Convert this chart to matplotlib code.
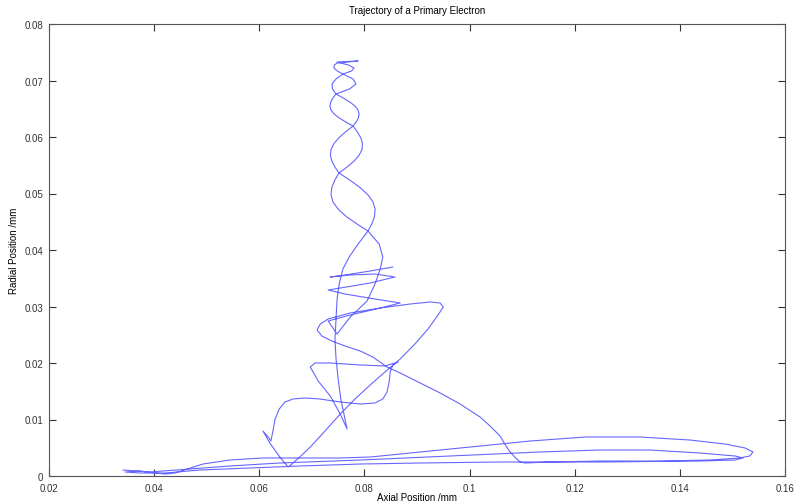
import numpy as np
import matplotlib
matplotlib.use("Agg")
import matplotlib.pyplot as plt

plt.rcParams['font.family'] = ['Liberation Sans', 'DejaVu Sans']

# trajectory, in path order (axial mm, radial mm)
bottom_x = [0.0341, 0.0392, 0.0468, 0.0544, 0.0639, 0.0792, 0.0963, 0.1134, 0.1248, 0.1343, 0.1438, 0.1505, 0.1520,
            0.1505, 0.1438, 0.1248, 0.1058, 0.0906, 0.0792, 0.0677, 0.0582, 0.0487, 0.0421, 0.0373, 0.0345,
            0.0373, 0.0402, 0.0421, 0.0440, 0.0463, 0.0493, 0.0544, 0.0607, 0.0677, 0.0754, 0.0811, 0.0906,
            0.1001, 0.1115, 0.1220, 0.1324, 0.1419, 0.1486, 0.1524, 0.1539, 0.1533, 0.1514, 0.1457, 0.1362,
            0.1248, 0.1153, 0.1105]
bottom_y = [0.00106, 0.00071, 0.00124, 0.00177, 0.00230, 0.00283, 0.00354, 0.00425, 0.00460, 0.00460, 0.00407, 0.00354, 0.00319,
            0.00283, 0.00265, 0.00248, 0.00248, 0.00230, 0.00212, 0.00177, 0.00142, 0.00106, 0.00053, 0.00053, 0.00071,
            0.00088, 0.00053, 0.00035, 0.00053, 0.00124, 0.00212, 0.00283, 0.00319, 0.00319, 0.00319, 0.00336, 0.00425,
            0.00513, 0.00619, 0.00690, 0.00690, 0.00637, 0.00566, 0.00496, 0.00425, 0.00354, 0.00319, 0.00283, 0.00265,
            0.00265, 0.00248, 0.00230]

arc_x = [0.1096, 0.1086, 0.1077, 0.1067, 0.1058, 0.1039, 0.1020, 0.0982, 0.0944, 0.0906, 0.0868, 0.0843,
         0.0816, 0.0792, 0.0763, 0.0738, 0.0719, 0.0710, 0.0716, 0.0731,
         0.0773, 0.0830, 0.0887, 0.0925, 0.0944, 0.0950]
arc_y = [0.00248, 0.00336, 0.00425, 0.00566, 0.00708, 0.00885, 0.01044, 0.01274, 0.01469, 0.01646, 0.01823, 0.01929,
         0.02106, 0.02212, 0.02301, 0.02389, 0.02478, 0.02584, 0.02690, 0.02779,
         0.02885, 0.02973, 0.03044, 0.03080, 0.03062, 0.02991]

diag_x = [0.0940, 0.0921, 0.0896, 0.0868, 0.0839, 0.0811, 0.0782, 0.0754, 0.0725, 0.0697, 0.0677, 0.0662, 0.0655]
diag_y = [0.02850, 0.02602, 0.02336, 0.02071, 0.01841, 0.01611, 0.01363, 0.01097, 0.00796, 0.00513, 0.00336, 0.00212, 0.00159]

cusp_x = [0.0639, 0.0620, 0.0607, 0.0617, 0.0622, 0.0626, 0.0630, 0.0638, 0.0649, 0.0664, 0.0687, 0.0715, 0.0754,
          0.0792, 0.0820, 0.0835, 0.0843, 0.0847, 0.0849, 0.0854, 0.0864]
cusp_y = [0.00336, 0.00584, 0.00796, 0.00690, 0.00619, 0.00796, 0.01009, 0.01186, 0.01310, 0.01363, 0.01381, 0.01363, 0.01310,
          0.01274, 0.01292, 0.01363, 0.01487, 0.01664, 0.01841, 0.01965, 0.02018]

loop_x = [0.0839, 0.0792, 0.0735, 0.0706, 0.0697, 0.0712, 0.0735, 0.0754, 0.0767]
loop_y = [0.01947, 0.01965, 0.02000, 0.02000, 0.01929, 0.01681, 0.01416, 0.01097, 0.00832]

# strand climbing from the notch to the top of the spiral
strand_a_x = [0.0761, 0.0755, 0.0750, 0.0746, 0.0744, 0.0746, 0.0748, 0.0752, 0.0759, 0.0771, 0.0788,
              0.08068, 0.08142, 0.08192, 0.08203, 0.08163, 0.08066, 0.07916, 0.07728, 0.07516,
              0.07440, 0.07381, 0.07353, 0.07364, 0.07419, 0.07514, 0.07640, 0.07783,
              0.07842, 0.07884, 0.07899, 0.07878, 0.07819, 0.07722, 0.07598, 0.07459,
              0.07393, 0.07383, 0.07459, 0.07592, 0.07754, 0.07802, 0.07697, 0.07478]
strand_a_y = [0.01097, 0.01363, 0.01717, 0.02071, 0.02425, 0.02779, 0.03133, 0.03398, 0.03664, 0.03876, 0.04106,
              0.04336, 0.04465, 0.04593, 0.04721, 0.04850, 0.04978, 0.05106, 0.05234, 0.05363,
              0.05467, 0.05570, 0.05674, 0.05779, 0.05883, 0.05986, 0.06090, 0.06195,
              0.06265, 0.06336, 0.06407, 0.06478, 0.06549, 0.06619, 0.06690, 0.06761,
              0.06850, 0.06938, 0.07027, 0.07115, 0.07168, 0.07221, 0.07274, 0.07327]

tick_x = [0.0788, 0.0748]
tick_y = [0.07345, 0.07310]

# second strand running back down the spiral
strand_b_x = [0.07427, 0.07421, 0.07484, 0.07592, 0.07783, 0.07840, 0.07716, 0.07459,
              0.07400, 0.07360, 0.07343, 0.07364, 0.07423, 0.07522, 0.07644, 0.07783,
              0.07866, 0.07931, 0.07963, 0.07954, 0.07897, 0.07798, 0.07667, 0.07516,
              0.07435, 0.07379, 0.07364, 0.07402, 0.07501, 0.07655, 0.07851, 0.08068,
              0.0828, 0.0835, 0.0830, 0.0820, 0.0805, 0.0773, 0.0748]
strand_b_y = [0.07274, 0.07221, 0.07168, 0.07115, 0.07027, 0.06938, 0.06850, 0.06761,
              0.06690, 0.06619, 0.06549, 0.06478, 0.06407, 0.06336, 0.06265, 0.06195,
              0.06090, 0.05986, 0.05883, 0.05779, 0.05674, 0.05570, 0.05467, 0.05363,
              0.05234, 0.05106, 0.04978, 0.04850, 0.04721, 0.04593, 0.04465, 0.04336,
              0.04106, 0.03876, 0.03664, 0.03398, 0.03097, 0.02814, 0.02513]

zigzag_x = [0.0731, 0.0773, 0.0830, 0.0868, 0.0820, 0.0763, 0.0731, 0.0754, 0.0811, 0.0858, 0.0820, 0.0773,
            0.0735, 0.0763, 0.0811, 0.0854]
zigzag_y = [0.02743, 0.02850, 0.02973, 0.03062, 0.03133, 0.03221, 0.03292, 0.03327, 0.03416, 0.03522, 0.03575, 0.03558,
            0.03522, 0.03558, 0.03628, 0.03699]

axial = np.concatenate([bottom_x, arc_x, diag_x, cusp_x, loop_x, strand_a_x, tick_x, strand_b_x, zigzag_x])
radial = np.concatenate([bottom_y, arc_y, diag_y, cusp_y, loop_y, strand_a_y, tick_y, strand_b_y, zigzag_y])

fig = plt.figure(figsize=(7.97, 5.02), dpi=100)
ax = fig.add_axes([49 / 797, 25 / 502, 736 / 797, 452 / 502])

ax.plot(axial, radial, color=(0.4, 0.4, 1.0), linewidth=0.8)

ax.set_xlim(0.02, 0.16)
ax.set_ylim(0, 0.08)
ax.set_xticks([0.02, 0.04, 0.06, 0.08, 0.1, 0.12, 0.14, 0.16])
ax.set_xticklabels(['0.02', '0.04', '0.06', '0.08', '0.1', '0.12', '0.14', '0.16'])
ax.set_yticks([0, 0.01, 0.02, 0.03, 0.04, 0.05, 0.06, 0.07, 0.08])
ax.set_yticklabels(['0', '0.01', '0.02', '0.03', '0.04', '0.05', '0.06', '0.07', '0.08'])
ax.tick_params(axis='both', direction='in', length=5, width=0.8, top=True, right=True,
               labelsize=7, colors='#333333')
ax.tick_params(axis='x', pad=5)
ax.tick_params(axis='y', pad=4)
for s in ax.spines.values():
    s.set_color('#555555')
    s.set_linewidth(0.8)

ax.set_title('Trajectory of a Primary Electron', fontsize=7, pad=8)
ax.set_xlabel('Axial Position /mm', fontsize=7, labelpad=-1)
ax.set_ylabel('Radial Position /mm', fontsize=7, labelpad=4)

fig.savefig('out.png', dpi=100)
